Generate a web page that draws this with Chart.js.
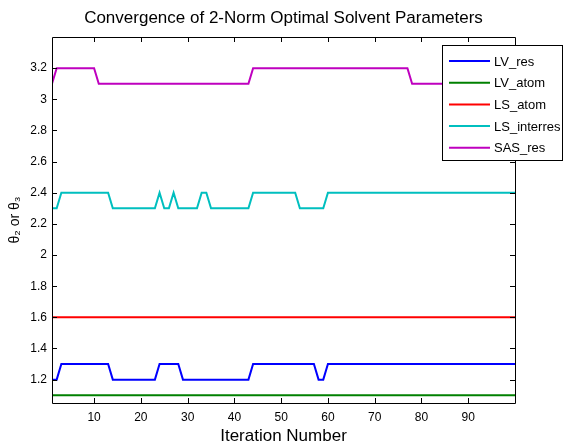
<!DOCTYPE html>
<html>
<head>
<meta charset="utf-8">
<script src="https://cdn.jsdelivr.net/npm/chart.js@4"></script>
<style>
  html, body { margin: 0; padding: 0; background: #fff; }
  #wrap { width: 564px; height: 445px; }
</style>
</head>
<body>
<div id="wrap"><canvas id="c" width="564" height="445"></canvas></div>
<script>
// ---- data ----
const lvRes = [
  1.2,1.2,1.3,1.3,1.3,1.3,1.3,1.3,1.3,1.3,
  1.3,1.3,1.3,1.2,1.2,1.2,1.2,1.2,1.2,1.2,
  1.2,1.2,1.2,1.3,1.3,1.3,1.3,1.3,1.2,1.2,
  1.2,1.2,1.2,1.2,1.2,1.2,1.2,1.2,1.2,1.2,
  1.2,1.2,1.2,1.3,1.3,1.3,1.3,1.3,1.3,1.3,
  1.3,1.3,1.3,1.3,1.3,1.3,1.3,1.2,1.2,1.3,
  1.3,1.3,1.3,1.3,1.3,1.3,1.3,1.3,1.3,1.3,
  1.3,1.3,1.3,1.3,1.3,1.3,1.3,1.3,1.3,1.3,
  1.3,1.3,1.3,1.3,1.3,1.3,1.3,1.3,1.3,1.3,
  1.3,1.3,1.3,1.3,1.3,1.3,1.3,1.3,1.3,1.3
];
const lvAtom = [
  1.1,1.1,1.1,1.1,1.1,1.1,1.1,1.1,1.1,1.1,
  1.1,1.1,1.1,1.1,1.1,1.1,1.1,1.1,1.1,1.1,
  1.1,1.1,1.1,1.1,1.1,1.1,1.1,1.1,1.1,1.1,
  1.1,1.1,1.1,1.1,1.1,1.1,1.1,1.1,1.1,1.1,
  1.1,1.1,1.1,1.1,1.1,1.1,1.1,1.1,1.1,1.1,
  1.1,1.1,1.1,1.1,1.1,1.1,1.1,1.1,1.1,1.1,
  1.1,1.1,1.1,1.1,1.1,1.1,1.1,1.1,1.1,1.1,
  1.1,1.1,1.1,1.1,1.1,1.1,1.1,1.1,1.1,1.1,
  1.1,1.1,1.1,1.1,1.1,1.1,1.1,1.1,1.1,1.1,
  1.1,1.1,1.1,1.1,1.1,1.1,1.1,1.1,1.1,1.1
];
const lsAtom = [
  1.6,1.6,1.6,1.6,1.6,1.6,1.6,1.6,1.6,1.6,
  1.6,1.6,1.6,1.6,1.6,1.6,1.6,1.6,1.6,1.6,
  1.6,1.6,1.6,1.6,1.6,1.6,1.6,1.6,1.6,1.6,
  1.6,1.6,1.6,1.6,1.6,1.6,1.6,1.6,1.6,1.6,
  1.6,1.6,1.6,1.6,1.6,1.6,1.6,1.6,1.6,1.6,
  1.6,1.6,1.6,1.6,1.6,1.6,1.6,1.6,1.6,1.6,
  1.6,1.6,1.6,1.6,1.6,1.6,1.6,1.6,1.6,1.6,
  1.6,1.6,1.6,1.6,1.6,1.6,1.6,1.6,1.6,1.6,
  1.6,1.6,1.6,1.6,1.6,1.6,1.6,1.6,1.6,1.6,
  1.6,1.6,1.6,1.6,1.6,1.6,1.6,1.6,1.6,1.6
];
const lsInterres = [
  2.3,2.3,2.4,2.4,2.4,2.4,2.4,2.4,2.4,2.4,
  2.4,2.4,2.4,2.3,2.3,2.3,2.3,2.3,2.3,2.3,
  2.3,2.3,2.3,2.4,2.3,2.3,2.4,2.3,2.3,2.3,
  2.3,2.3,2.4,2.4,2.3,2.3,2.3,2.3,2.3,2.3,
  2.3,2.3,2.3,2.4,2.4,2.4,2.4,2.4,2.4,2.4,
  2.4,2.4,2.4,2.3,2.3,2.3,2.3,2.3,2.3,2.4,
  2.4,2.4,2.4,2.4,2.4,2.4,2.4,2.4,2.4,2.4,
  2.4,2.4,2.4,2.4,2.4,2.4,2.4,2.4,2.4,2.4,
  2.4,2.4,2.4,2.4,2.4,2.4,2.4,2.4,2.4,2.4,
  2.4,2.4,2.4,2.4,2.4,2.4,2.4,2.4,2.4,2.4
];
const sasRes = [
  3.1,3.2,3.2,3.2,3.2,3.2,3.2,3.2,3.2,3.2,
  3.1,3.1,3.1,3.1,3.1,3.1,3.1,3.1,3.1,3.1,
  3.1,3.1,3.1,3.1,3.1,3.1,3.1,3.1,3.1,3.1,
  3.1,3.1,3.1,3.1,3.1,3.1,3.1,3.1,3.1,3.1,
  3.1,3.1,3.1,3.2,3.2,3.2,3.2,3.2,3.2,3.2,
  3.2,3.2,3.2,3.2,3.2,3.2,3.2,3.2,3.2,3.2,
  3.2,3.2,3.2,3.2,3.2,3.2,3.2,3.2,3.2,3.2,
  3.2,3.2,3.2,3.2,3.2,3.2,3.2,3.1,3.1,3.1,
  3.1,3.1,3.1,3.1,3.1,3.1,3.1,3.1,3.1,3.1,
  3.1,3.1,3.1,3.1,3.1,3.1,3.1,3.1,3.1,3.1
];
const iterations = lvRes.map((_, i) => i + 1);
const seriesNames = ['LV_res', 'LV_atom', 'LS_atom', 'LS_interres', 'SAS_res'];
const seriesValues = [lvRes, lvAtom, lsAtom, lsInterres, sasRes];
const seriesColors = ['#0000ff', '#008000', '#ff0000', '#00bfbf', '#bf00bf'];
const xTicks = [10, 20, 30, 40, 50, 60, 70, 80, 90];
const yTicks = [1.2, 1.4, 1.6, 1.8, 2.0, 2.2, 2.4, 2.6, 2.8, 3.0, 3.2];
const xRange = [1, 100];
const yRange = [1.05, 3.4];
const titleText = 'Convergence of 2-Norm Optimal Solvent Parameters';
const xLabel = 'Iteration Number';
const yLabel = 'θ₂ or θ₃';

const FONT = 'Liberation Sans, Arial, Helvetica, sans-serif';

const datasets = seriesNames.map((name, k) => ({
  label: name,
  data: iterations.map((x, i) => ({ x: x, y: seriesValues[k][i] })),
  borderColor: seriesColors[k],
  backgroundColor: seriesColors[k],
  borderWidth: 2,
  pointRadius: 0,
  tension: 0,
  fill: false
}));

// title centred over the axes, box + inward ticks (MATLAB style), legend box
const matlabAxes = {
  id: 'matlabAxes',
  afterDatasetsDraw(chart) {
    const { ctx, chartArea: a, scales: { x, y } } = chart;
    ctx.save();
    // title
    ctx.fillStyle = '#000';
    ctx.font = '17px ' + FONT;
    ctx.textAlign = 'center';
    ctx.textBaseline = 'middle';
    ctx.fillText(titleText, (a.left + a.right) / 2, 18.5);

    ctx.strokeStyle = '#000';
    ctx.lineWidth = 1;
    ctx.beginPath();
    ctx.rect(Math.round(a.left) + 0.5, Math.round(a.top) + 0.5,
             Math.round(a.right - a.left), Math.round(a.bottom - a.top));
    ctx.stroke();
    const tl = 5;
    ctx.beginPath();
    xTicks.forEach(v => {
      const px = Math.round(x.getPixelForValue(v)) + 0.5;
      ctx.moveTo(px, a.bottom); ctx.lineTo(px, a.bottom - tl);
      ctx.moveTo(px, a.top); ctx.lineTo(px, a.top + tl);
    });
    yTicks.forEach(v => {
      const py = Math.round(y.getPixelForValue(v)) + 0.5;
      ctx.moveTo(a.left, py); ctx.lineTo(a.left + tl, py);
      ctx.moveTo(a.right, py); ctx.lineTo(a.right - tl, py);
    });
    ctx.stroke();

    // legend
    const lx = 442.5, ly = 45.5, lw = 120, lh = 115;
    ctx.fillStyle = '#fff';
    ctx.fillRect(lx, ly, lw, lh);
    ctx.strokeStyle = '#000';
    ctx.strokeRect(lx, ly, lw, lh);
    ctx.font = '13px ' + FONT;
    ctx.textBaseline = 'middle';
    ctx.textAlign = 'left';
    chart.data.datasets.forEach((ds, i) => {
      const ry = 61 + i * 21.7;
      ctx.strokeStyle = ds.borderColor;
      ctx.lineWidth = 2;
      ctx.beginPath();
      ctx.moveTo(449, ry); ctx.lineTo(490, ry);
      ctx.stroke();
      ctx.fillStyle = '#000';
      ctx.fillText(ds.label, 494, ry + 1);
    });
    ctx.restore();
  }
};

new Chart(document.getElementById('c'), {
  type: 'line',
  data: { datasets },
  plugins: [matlabAxes],
  options: {
    responsive: false,
    animation: false,
    layout: { padding: { left: 0, right: 49, top: 37, bottom: 0 } },
    plugins: {
      legend: { display: false },
      tooltip: { enabled: false },
      title: { display: false }
    },
    scales: {
      x: {
        type: 'linear',
        min: xRange[0], max: xRange[1],
        afterBuildTicks: s => { s.ticks = xTicks.map(v => ({ value: v })); },
        afterFit: s => { s.height = 42; },
        grid: { display: false, drawTicks: false },
        border: { display: false },
        ticks: {
          color: '#000', padding: 7,
          font: { family: FONT, size: 12 },
          maxRotation: 0, autoSkip: false,
          callback: v => String(v)
        },
        title: {
          display: true, text: xLabel, color: '#000',
          font: { family: FONT, size: 17, lineHeight: 1 },
          padding: { top: 0, bottom: 0 }
        }
      },
      y: {
        type: 'linear',
        min: yRange[0], max: yRange[1],
        afterBuildTicks: s => { s.ticks = yTicks.map(v => ({ value: v })); },
        afterFit: s => { s.width = 52; },
        grid: { display: false, drawTicks: false },
        border: { display: false },
        ticks: {
          color: '#000', padding: 5,
          font: { family: FONT, size: 12 },
          autoSkip: false,
          callback: v => String(+Number(v).toFixed(1))
        },
        title: {
          display: true, text: yLabel, color: '#000',
          font: { family: FONT, size: 14, lineHeight: 1 },
          padding: { top: 8, bottom: 0 }
        }
      }
    }
  }
});
</script>
</body>
</html>
